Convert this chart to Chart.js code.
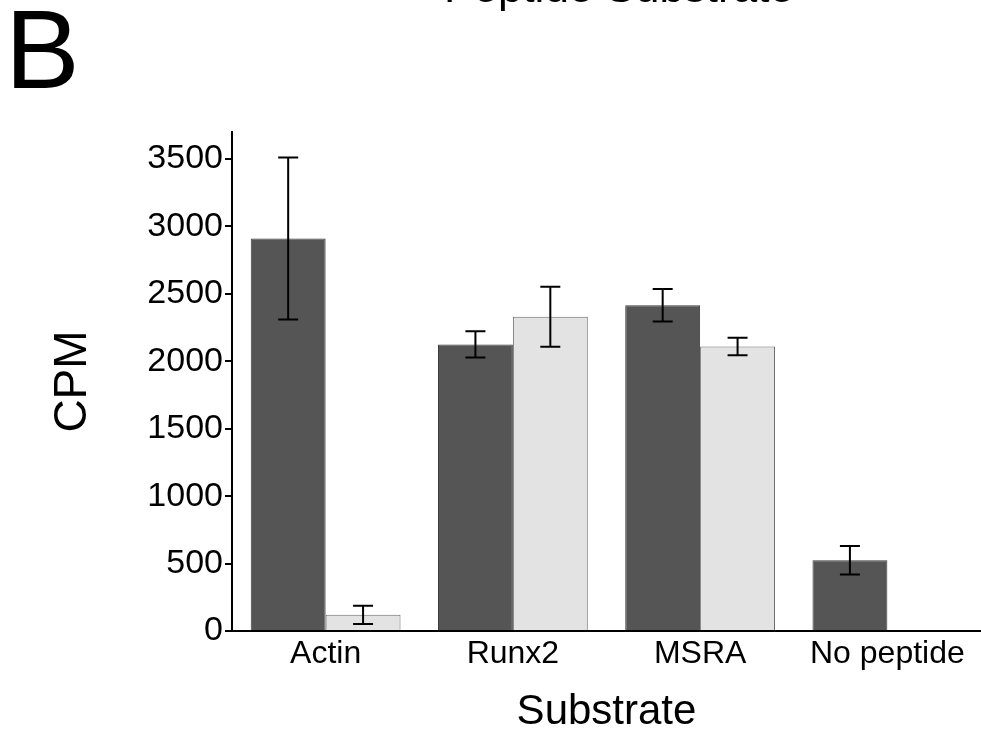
<!DOCTYPE html>
<html>
<head>
<meta charset="utf-8">
<script src="https://cdn.jsdelivr.net/npm/chart.js@4"></script>
<style>
  body { margin: 0; background: #fff; }
  #chart { display: block; }
</style>
</head>
<body>
<canvas id="chart" width="981" height="738"></canvas>
<script>
// données
const categories = ['Actin', 'Runx2', 'MSRA', 'No peptide'];
const darkValues = [2910, 2125, 2415, 525];
const darkErrors = [600, 97, 121, 106];
const lightValues = [120, 2330, 2110, null];
const lightErrors = [68, 222, 65, null];
const yTicks = [0, 500, 1000, 1500, 2000, 2500, 3000, 3500];

const FONT = '"Liberation Sans", Arial, sans-serif';

// barres d'erreur dessinées après les barres
const errorBars = {
    id: 'errorBars',
    afterDatasetsDraw(chart) {
        const ctx = chart.ctx;
        const y = chart.scales.y;
        const errs = [darkErrors, lightErrors];
        ctx.save();
        ctx.strokeStyle = '#000';
        ctx.lineWidth = 2;
        chart.data.datasets.forEach((ds, i) => {
            const meta = chart.getDatasetMeta(i);
            meta.data.forEach((bar, j) => {
                const v = ds.data[j];
                const e = errs[i][j];
                if (v == null || e == null) return;
                const x = bar.x;
                const top = y.getPixelForValue(v + e);
                const bot = y.getPixelForValue(v - e);
                ctx.beginPath();
                ctx.moveTo(x, top); ctx.lineTo(x, bot);
                ctx.moveTo(x - 10, top); ctx.lineTo(x + 10, top);
                ctx.moveTo(x - 10, bot); ctx.lineTo(x + 10, bot);
                ctx.stroke();
            });
        });
        ctx.restore();
    }
};

// lettre du panneau et titre coupé en haut
const panelText = {
    id: 'panelText',
    afterDraw(chart) {
        const ctx = chart.ctx;
        ctx.save();
        ctx.fillStyle = '#000';
        ctx.textBaseline = 'alphabetic';
        ctx.textAlign = 'left';
        ctx.font = '112px ' + FONT;
        ctx.fillText('B', 5, 88);
        ctx.textAlign = 'center';
        ctx.font = '44px ' + FONT;
        ctx.fillText('Peptide Substrate', 619, 2);
        ctx.restore();
    }
};

new Chart(document.getElementById('chart'), {
    type: 'bar',
    data: {
        labels: categories,
        datasets: [{
            label: 'dark',
            data: darkValues,
            backgroundColor: '#555555',
            borderColor: '#3c3c3c',
            borderWidth: 1,
            categoryPercentage: 0.8,
            barPercentage: 1.0
        }, {
            label: 'light',
            data: lightValues,
            backgroundColor: '#e3e3e3',
            borderColor: '#6a6a6a',
            borderWidth: 1,
            categoryPercentage: 0.8,
            barPercentage: 1.0
        }]
    },
    options: {
        responsive: false,
        animation: false,
        devicePixelRatio: 1,
        layout: { padding: { top: 132, left: 0, right: 0, bottom: 0 } },
        plugins: {
            legend: { display: false },
            tooltip: { enabled: false }
        },
        scales: {
            x: {
                grid: { display: false, drawTicks: false },
                border: { display: true, color: '#000', width: 2 },
                ticks: { color: '#000', padding: 4, font: { family: FONT, size: 32 } },
                title: {
                    display: true, text: 'Substrate', color: '#000',
                    font: { family: FONT, size: 42 }, padding: { top: 16, bottom: 0 }
                },
                afterFit: s => { s.height = 107; }
            },
            y: {
                min: 0,
                max: 3700,
                afterBuildTicks: s => { s.ticks = yTicks.map(v => ({ value: v })); },
                grid: { drawOnChartArea: false, drawTicks: true, tickLength: 7, color: '#000', lineWidth: 2 },
                border: { display: true, color: '#000', width: 2 },
                ticks: {
                    color: '#000', padding: 2, font: { family: FONT, size: 34 },
                    callback: v => String(v)
                },
                title: {
                    display: true, text: 'CPM', color: '#000',
                    font: { family: FONT, size: 46 }, padding: { top: 46, bottom: 0 }
                },
                afterFit: s => { s.width = 232; }
            }
        }
    },
    plugins: [errorBars, panelText]
});
</script>
</body>
</html>
